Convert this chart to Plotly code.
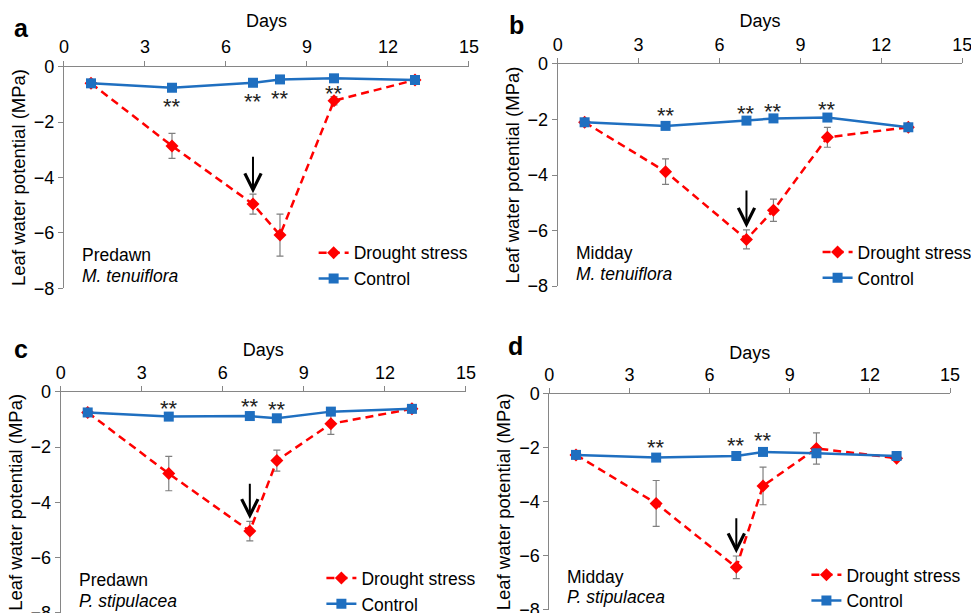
import plotly.graph_objects as go

days = [1, 4, 7, 8, 10, 13]

a_control = [-0.60, -0.76, -0.58, -0.46, -0.42, -0.48]
a_drought = [-0.60, -2.86, -4.96, -6.08, -1.23, -0.48]
a_err = [0, 0.45, 0.36, 0.76, 0.15, 0]

b_control = [-2.10, -2.23, -2.04, -1.96, -1.93, -2.28]
b_drought = [-2.10, -3.88, -6.32, -5.27, -2.64, -2.28]
b_err = [0, 0.46, 0.34, 0.40, 0.36, 0]

c_control = [-0.75, -0.90, -0.88, -0.96, -0.72, -0.62]
c_drought = [-0.75, -2.96, -5.04, -2.49, -1.16, -0.62]
c_err = [0, 0.62, 0.35, 0.38, 0.38, 0]

d_control = [-2.26, -2.36, -2.30, -2.15, -2.20, -2.30]
d_drought = [-2.26, -4.06, -6.43, -3.41, -2.02, -2.38]
d_err = [0, 0.85, 0.42, 0.70, 0.58, 0]
d_control_err = [0, 0.12, 0, 0.08, 0.1, 0]

sig_a_days = [4, 7, 8, 10]
sig_a_y = [-1.30, -1.10, -1.02, -0.82]
sig_b_days = [4, 7, 8, 10]
sig_b_y = [-1.72, -1.63, -1.56, -1.48]
sig_c_days = [4, 7, 8]
sig_c_y = [-0.45, -0.40, -0.51]
sig_d_days = [4, 7, 8]
sig_d_y = [-1.83, -1.78, -1.58]

arrow_day = 7
arrow_a = (-3.2, -4.57)
arrow_b = (-4.5, -5.9)
arrow_c = (-3.27, -4.6)
arrow_d = (-4.55, -5.91)

x_ticks = [0, 3, 6, 9, 12, 15]
y_ticks = [0, -2, -4, -6, -8]

RED = "#FF0000"
BLUE = "#1F6FC0"
GRAY = "#868686"
FONT = "Liberation Sans, Arial, sans-serif"

panels = [
    dict(k="", letter="a", cond="Predawn", sp="M. tenuiflora", ctrl=a_control, dr=a_drought, err=a_err,
         cerr=[0]*6, sd=sig_a_days, sy=sig_a_y, arr=arrow_a, so=5,
         xd=[0.0659, 0.4830], yd=[0.5297, 0.8912], leg=(0.323, 0.617), lab=(0.0124, 0.955)),
    dict(k="2", letter="b", cond="Midday", sp="M. tenuiflora", ctrl=b_control, dr=b_drought, err=b_err,
         cerr=[0]*6, sd=sig_b_days, sy=sig_b_y, arr=arrow_b, so=2,
         xd=[0.5743, 0.9910], yd=[0.5334, 0.8956], leg=(0.842, 0.618), lab=(0.5218, 0.959)),
    dict(k="3", letter="c", cond="Predawn", sp="P. stipulacea", ctrl=c_control, dr=c_drought, err=c_err,
         cerr=[0]*6, sd=sig_c_days, sy=sig_c_y, arr=arrow_c, so=1,
         xd=[0.0625, 0.4799], yd=[0.0, 0.3610], leg=(0.331, 0.0863), lab=(0.0124, 0.431)),
    dict(k="4", letter="d", cond="Midday", sp="P. stipulacea", ctrl=d_control, dr=d_drought, err=d_err,
         cerr=d_control_err, sd=sig_d_days, sy=sig_d_y, arr=arrow_d, so=0,
         xd=[0.5657, 0.9784], yd=[0.0055, 0.3573], leg=(0.8305, 0.0915), lab=(0.5208, 0.4348)),
]

fig = go.Figure()
annotations = []
layout = dict(
    width=971, height=613,
    margin=dict(l=0, r=0, t=0, b=0, autoexpand=False),
    paper_bgcolor="white", plot_bgcolor="white",
    font=dict(family=FONT, size=18, color="black"),
    showlegend=True,
)

for p in panels:
    k = p["k"]
    xa = "x" + k
    ya = "y" + k
    leg = "legend" + k
    fig.add_trace(go.Scatter(
        x=days, y=p["dr"], name="Drought stress", mode="lines+markers",
        line=dict(color=RED, width=2.5, dash="8px,5px"),
        marker=dict(symbol="diamond", size=10, color=RED),
        error_y=dict(type="data", array=p["err"], color="#7F7F7F", thickness=1.2, width=3.5),
        xaxis=xa, yaxis=ya, legend=leg, cliponaxis=False,
    ))
    fig.add_trace(go.Scatter(
        x=days, y=p["ctrl"], name="Control", mode="lines+markers",
        line=dict(color=BLUE, width=2.5),
        marker=dict(symbol="square", size=10, color=BLUE),
        error_y=dict(type="data", array=p["cerr"], color="#7F7F7F", thickness=1.2, width=3.5),
        xaxis=xa, yaxis=ya, legend=leg, cliponaxis=False,
    ))
    layout["xaxis" + k] = dict(
        domain=p["xd"], range=[0, 15], tickvals=x_ticks, side="top", anchor=ya,
        automargin=False, ticklabeloverflow="allow",
        showline=True, linecolor=GRAY, linewidth=1, ticks="outside", ticklen=5,
        tickcolor=GRAY, showgrid=False, zeroline=False,
        tickfont=dict(size=18), title=dict(text="Days", font=dict(size=18), standoff=p["so"]),
    )
    layout["yaxis" + k] = dict(
        domain=p["yd"], range=[-8, 0], tickvals=y_ticks, anchor=xa,
        automargin=False, ticklabeloverflow="allow",
        showline=True, linecolor=GRAY, linewidth=1, ticks="outside", ticklen=5,
        tickcolor=GRAY, showgrid=False, zeroline=False,
        tickfont=dict(size=18), title=dict(text="Leaf water potential (MPa)", font=dict(size=18.5), standoff=3),
    )
    layout[leg] = dict(
        x=p["leg"][0], y=p["leg"][1], xanchor="left", yanchor="top",
        bgcolor="rgba(0,0,0,0)", font=dict(size=17.5), tracegroupgap=0,
    )
    for dd, yy in zip(p["sd"], p["sy"]):
        annotations.append(dict(x=dd, y=yy, xref=xa, yref=ya, text="**", showarrow=False,
                                font=dict(size=22, color="#222222"), yshift=-4))
    annotations.append(dict(x=arrow_day, y=p["arr"][1], ax=arrow_day, ay=p["arr"][0],
                            xref=xa, yref=ya, axref=xa, ayref=ya, text="", showarrow=True,
                            arrowhead=5, arrowsize=1.6, arrowwidth=2, arrowcolor="black"))
    annotations.append(dict(x=0.6, y=-6.8, xref=xa, yref=ya, text=p["cond"], showarrow=False,
                            xanchor="left", font=dict(size=17.5)))
    annotations.append(dict(x=0.6, y=-7.55, xref=xa, yref=ya, text="<i>" + p["sp"] + "</i>",
                            showarrow=False, xanchor="left", font=dict(size=17.5)))
    annotations.append(dict(x=p["lab"][0], y=p["lab"][1], xref="paper", yref="paper",
                            text="<b>" + p["letter"] + "</b>", showarrow=False,
                            font=dict(size=25), xanchor="left", yanchor="middle"))

layout["annotations"] = annotations
fig.update_layout(**layout)
fig.write_html("out.html")
